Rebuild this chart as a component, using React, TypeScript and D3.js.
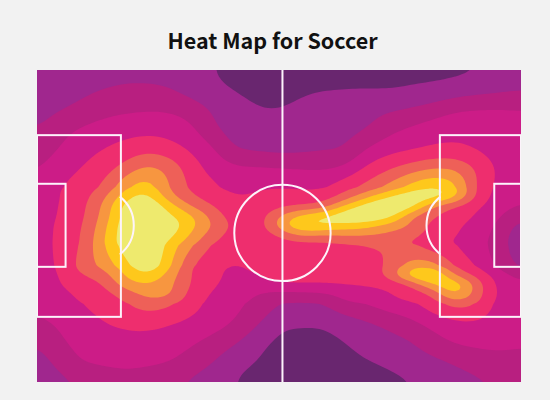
import React, { useMemo } from "react";
import * as d3 from "d3";

const titleText = "Heat Map for Soccer";
const bandColors = ["#69266f", "#a0278e", "#b81f80", "#cc1c87", "#ee2e6e", "#ee6058", "#f79640", "#fec81c", "#eeea6e"];
const thresholds = [1, 2, 3, 4, 5, 6, 7, 8];

// density level on a lattice over the pitch
const sampleRowsPx = [70, 89.5, 109, 128.5, 148, 167.5, 187, 196.75, 206.5, 216.25, 226, 236, 245.5, 265, 275, 284.5, 294.25, 304, 323.5, 343, 362.5, 382];
const heatRows: number[][] = [
  [1.3,1.4,1.5,1.6,1.7,1.7,1.6,1.3,1.05,0.6,0.3,0.2,0.3,0.3,0.3,0.4,0.5,0.7,0.75,0.8,0.95,1.2,1.4],
  [1.4,1.6,1.8,2.0,2.15,2.15,2.05,1.6,1.25,0.95,0.7,0.65,0.85,1.0,1.05,1.05,1.0,1.1,1.2,1.4,1.6,1.75,1.9],
  [1.6,1.9,2.2,2.6,2.8,2.9,2.85,2.5,1.9,1.4,1.05,1.0,1.2,1.4,1.5,1.7,1.85,2.05,2.4,2.85,3.0,3.05,3.0],
  [1.95,2.6,3.1,3.4,3.6,3.7,3.65,3.2,2.1,1.6,1.4,1.35,1.5,1.65,1.75,1.9,2.7,3.15,3.5,3.75,3.75,3.6,3.4],
  [2.6,3.0,3.6,3.95,4.3,4.6,4.3,3.8,3.1,1.9,1.75,1.6,1.7,1.85,1.95,3.0,3.6,3.8,4.05,4.1,3.8,3.5,3.3],
  [2.9,3.4,4.0,4.5,5.3,6.2,5.7,4.5,3.6,3.2,3.1,3.0,2.9,2.85,3.1,4.2,4.8,5.4,5.85,5.8,4.9,3.8,3.4],
  [3.2,3.95,4.5,5.1,6.8,7.6,5.95,4.8,4.2,3.7,3.9,4.0,3.95,3.9,4.7,5.3,6.3,7.4,8.1,7.4,4.8,3.75,3.3],
  [3.3,4.0,4.6,5.7,7.6,8.4,6.4,5.2,4.5,4.05,4.1,4.3,4.3,4.5,5.4,6.8,8.0,8.7,8.4,7.2,4.7,3.6,3.1],
  [3.4,4.05,4.7,6.1,8.4,9.0,7.6,6.0,5.05,4.2,4.3,4.8,5.2,5.5,7.3,8.6,9.2,8.4,5.95,5.0,4.15,3.4,2.9],
  [3.45,4.1,4.75,6.3,8.5,9.1,8.2,7.2,5.6,4.5,4.4,6.0,7.3,8.0,8.8,8.9,8.4,6.1,5.1,4.5,3.9,3.1,2.2],
  [3.5,4.2,4.85,6.6,8.7,9.2,8.7,7.3,5.9,4.7,4.4,6.3,8.0,7.9,7.6,7.3,6.5,5.9,4.7,4.2,3.6,2.8,1.6],
  [3.55,4.2,4.95,6.8,8.7,9.2,8.3,6.8,5.4,4.5,4.3,5.0,5.9,5.7,5.9,5.9,5.7,5.3,4.5,4.05,3.5,2.6,1.3],
  [3.6,4.2,5.0,6.9,8.6,9.2,7.6,6.2,4.85,4.4,4.3,4.5,4.6,4.7,4.85,5.0,5.1,4.95,4.4,3.95,3.4,2.5,1.3],
  [3.6,4.1,5.4,6.3,7.6,8.9,7.3,5.0,4.3,3.9,4.3,4.5,4.5,4.5,4.5,4.6,5.1,6.5,6.4,4.8,3.9,2.7,1.7],
  [3.45,4.0,4.95,5.5,7.1,7.9,6.6,4.95,4.2,3.8,3.95,4.2,4.2,4.3,4.3,4.4,5.3,7.6,8.3,5.9,4.7,3.5,2.6],
  [3.3,3.95,4.5,4.95,6.5,6.95,6.3,4.9,4.1,3.7,3.6,3.95,4.0,3.95,4.05,4.1,4.3,5.1,7.0,7.8,5.5,3.7,3.2],
  [3.2,3.7,4.2,4.6,5.4,6.3,6.2,4.6,3.9,3.4,3.0,2.6,2.7,2.8,3.35,3.6,3.9,4.5,5.05,7.2,5.4,3.8,3.25],
  [3.1,3.5,4.0,4.4,4.9,5.5,5.2,4.4,3.7,3.2,2.8,2.0,1.95,2.0,2.85,3.1,3.6,3.85,4.6,5.4,5.05,3.6,3.3],
  [2.85,3.1,3.5,3.95,4.2,4.3,4.05,3.75,3.4,2.95,2.1,1.2,1.1,1.05,1.4,1.8,2.2,2.7,3.3,3.7,3.8,3.5,3.3],
  [2.0,2.9,3.2,3.5,3.6,3.6,3.4,3.1,2.65,2.05,1.3,0.8,0.65,0.8,1.0,1.4,1.7,1.9,2.6,3.1,3.2,3.2,3.1],
  [1.5,2.3,3.05,3.2,3.3,3.2,3.05,2.6,2.0,1.3,1.0,0.5,0.3,0.4,0.6,0.95,1.2,1.5,1.7,2.1,2.5,2.7,2.7],
  [1.2,1.7,2.0,2.3,2.5,2.4,2.15,1.8,1.4,1.0,0.6,0.2,0.1,0.1,0.2,0.4,0.7,0.95,1.2,1.5,1.8,2.05,2.2],
];

// pitch markings, in metres
const pitchLength = 105;
const pitchWidth = 68;
const halfwayX = [53.25];
const centreCircle = { x: 53.25, y: 35.5, r: 10.45 };
const penaltyLeft = { x0: 0, x1: 18.2, y0: 14.2, y1: 53.8 };
const penaltyRight = { x0: 87.4, x1: 105, y0: 14.2, y1: 53.8 };
const sixLeft = { x0: 0, x1: 6.2, y0: 24.8, y1: 42.9 };
const sixRight = { x0: 99.2, x1: 105, y0: 24.8, y1: 42.9 };
const arcLeft = { x: 13, y: 33.9, r: 8 };
const arcRight = { x: 92.5, y: 33.9, r: 8 };

const FACTOR = 6;

function catmull(p0: number, p1: number, p2: number, p3: number, t: number) {
  return 0.5 * (2 * p1 + (p2 - p0) * t + (2 * p0 - 5 * p1 + 4 * p2 - p3) * t * t + (3 * p1 - p0 - 3 * p2 + p3) * t * t * t);
}

function upsample(rows: number[][], k: number) {
  const nr = rows.length, nc = rows[0].length;
  const w = (nc - 1) * k + 1, h = (nr - 1) * k + 1;
  const out = new Float64Array(w * h);
  const at = (r: number, c: number) => rows[Math.max(0, Math.min(nr - 1, r))][Math.max(0, Math.min(nc - 1, c))];
  for (let j = 0; j < h; j++) {
    const r = Math.min(Math.floor(j / k), nr - 2), tr = j / k - r;
    for (let i = 0; i < w; i++) {
      const c = Math.min(Math.floor(i / k), nc - 2), tc = i / k - c;
      const col = [-1, 0, 1, 2].map((dr) =>
        catmull(at(r + dr, c - 1), at(r + dr, c), at(r + dr, c + 1), at(r + dr, c + 2), tc)
      );
      out[j * w + i] = catmull(col[0], col[1], col[2], col[3], tr);
    }
  }
  return { values: out, w, h };
}

export default function App() {
  const left = 37, right = 521, top = 70, bottom = 382;
  const x = d3.scaleLinear().domain([0, pitchLength]).range([left, right]);
  const y = d3.scaleLinear().domain([0, pitchWidth]).range([top, bottom]);

  const bands = useMemo(() => {
    const { values, w, h } = upsample(heatRows, FACTOR);
    d3.blur2({ data: values, width: w, height: h }, 2);
    const cs = d3.contours().size([w, h]).thresholds(thresholds)(Array.from(values));
    const gx = d3.scaleLinear().domain([0.5, w - 0.5]).range([left, right]);
    const gy = d3
      .scaleLinear()
      .domain(sampleRowsPx.map((_, i) => i * FACTOR + 0.5))
      .range(sampleRowsPx);
    const project = d3.geoTransform({
      point(px, py) {
        this.stream.point(gx(px), gy(py));
      },
    });
    const path = d3.geoPath(project);
    return cs.map((c) => path(c) || "");
  }, []);

  const leftArc = d3.path();
  leftArc.arc(x(arcLeft.x), y(arcLeft.y), x(arcLeft.r) - x(0), -0.9, 0.9, false);
  const rightArc = d3.path();
  rightArc.arc(x(arcRight.x), y(arcRight.y), x(arcRight.r) - x(0), Math.PI - 0.9, Math.PI + 0.9, false);

  const rects = [penaltyLeft, penaltyRight, sixLeft, sixRight];
  const stroke = "#fdf3fb";

  return (
    <svg width={550} height={400} style={{ position: "absolute", left: 0, top: 0, display: "block" }}>
      <defs>
        <clipPath id="pitch">
          <rect x={left} y={top} width={right - left} height={bottom - top} />
        </clipPath>
      </defs>
      <rect width={550} height={400} fill="#f2f2f2" />
      <text x={272.5} y={49} textAnchor="middle" fontFamily="'Noto Sans CJK SC','Noto Sans',sans-serif" fontWeight={700} fontSize={21.5} fill="#111">
        {titleText}
      </text>
      <g clipPath="url(#pitch)">
        <rect x={left} y={top} width={right - left} height={bottom - top} fill={bandColors[0]} />
        {bands.map((d, i) => (
          <path key={i} d={d} fill={bandColors[i + 1]} />
        ))}
        <g fill="none" stroke={stroke} strokeWidth={2}>
          {halfwayX.map((v) => (
            <line key={v} x1={x(v)} x2={x(v)} y1={top} y2={bottom} />
          ))}
          <circle cx={x(centreCircle.x)} cy={y(centreCircle.y)} r={x(centreCircle.r) - x(0)} />
          {rects.map((r, i) => (
            <rect key={i} x={x(r.x0)} y={y(r.y0)} width={x(r.x1) - x(r.x0)} height={y(r.y1) - y(r.y0)} />
          ))}
          <path d={leftArc.toString()} />
          <path d={rightArc.toString()} />
        </g>
      </g>
    </svg>
  );
}
